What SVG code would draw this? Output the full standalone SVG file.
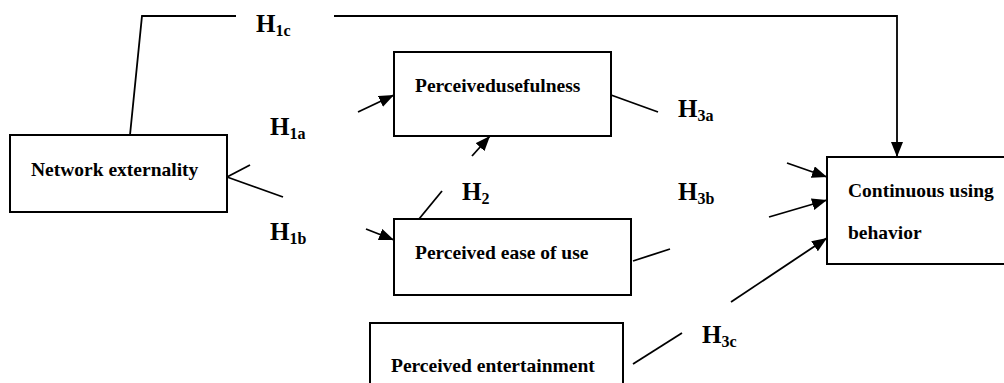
<svg xmlns="http://www.w3.org/2000/svg" width="1004" height="383" viewBox="0 0 1004 383">
<style>
.box{fill:#fff;stroke:#000;stroke-width:2}
.lbl{font-family:"Liberation Serif","Times New Roman",serif;font-weight:bold;font-size:19.5px;fill:#000}
.h{font-family:"Liberation Serif","Times New Roman",serif;font-weight:bold;font-size:25px;fill:#000}
.sub{font-size:16px}
.ln{fill:none;stroke:#000;stroke-width:1.8}
</style>
<defs>
<marker id="arr" markerUnits="userSpaceOnUse" markerWidth="15" markerHeight="12" refX="15" refY="6" orient="auto">
<path d="M0,0 L15,6 L0,12 z" fill="#000"/>
</marker>
</defs>
<rect width="1004" height="383" fill="#fff"/>
<g id="connectors">
<polyline class="ln" points="130,135 142,16 236,16"/>
<polyline class="ln" points="334,16 897,16 897,157" marker-end="url(#arr)"/>
<line class="ln" x1="227" y1="177" x2="250" y2="165"/>
<line class="ln" x1="358" y1="112" x2="394" y2="95" marker-end="url(#arr)"/>
<line class="ln" x1="227" y1="177" x2="283" y2="197"/>
<line class="ln" x1="366" y1="229" x2="394" y2="240" marker-end="url(#arr)"/>
<line class="ln" x1="419" y1="219" x2="442" y2="191"/>
<line class="ln" x1="472" y1="156" x2="490" y2="136" marker-end="url(#arr)"/>
<line class="ln" x1="611" y1="95" x2="658" y2="112"/>
<line class="ln" x1="787" y1="163" x2="827" y2="177" marker-end="url(#arr)"/>
<line class="ln" x1="633" y1="261" x2="670" y2="249"/>
<line class="ln" x1="769" y1="217" x2="827" y2="200" marker-end="url(#arr)"/>
<line class="ln" x1="633" y1="364" x2="682" y2="333"/>
<line class="ln" x1="731" y1="302" x2="827" y2="238" marker-end="url(#arr)"/>
</g>
<g id="labels">
<text class="h" x="256" y="32">H<tspan class="sub" dy="4">1c</tspan></text>
<text class="h" x="270" y="135">H<tspan class="sub" dy="4">1a</tspan></text>
<text class="h" x="270" y="240">H<tspan class="sub" dy="4">1b</tspan></text>
<text class="h" x="462" y="200">H<tspan class="sub" dy="4">2</tspan></text>
<text class="h" x="678" y="117">H<tspan class="sub" dy="4">3a</tspan></text>
<text class="h" x="678" y="200">H<tspan class="sub" dy="4">3b</tspan></text>
<text class="h" x="702" y="343">H<tspan class="sub" dy="4">3c</tspan></text>
</g>
<g id="network-externality">
<rect class="box" x="10" y="135" width="217" height="77"/>
<text class="lbl" x="31" y="176">Network externality</text>
</g>
<g id="perceived-usefulness">
<rect class="box" x="394" y="52" width="217" height="84"/>
<text class="lbl" x="415" y="92">Perceivedusefulness</text>
</g>
<g id="perceived-ease-of-use">
<rect class="box" x="394" y="219" width="237" height="76"/>
<text class="lbl" x="415" y="259">Perceived ease of use</text>
</g>
<g id="perceived-entertainment">
<rect class="box" x="370" y="323" width="253" height="90"/>
<text class="lbl" x="391" y="372">Perceived entertainment</text>
</g>
<g id="continuous-using-behavior">
<rect class="box" x="827" y="157" width="220" height="107"/>
<text class="lbl" x="848" y="197">Continuous using</text>
<text class="lbl" x="848" y="239">behavior</text>
</g>
</svg>
